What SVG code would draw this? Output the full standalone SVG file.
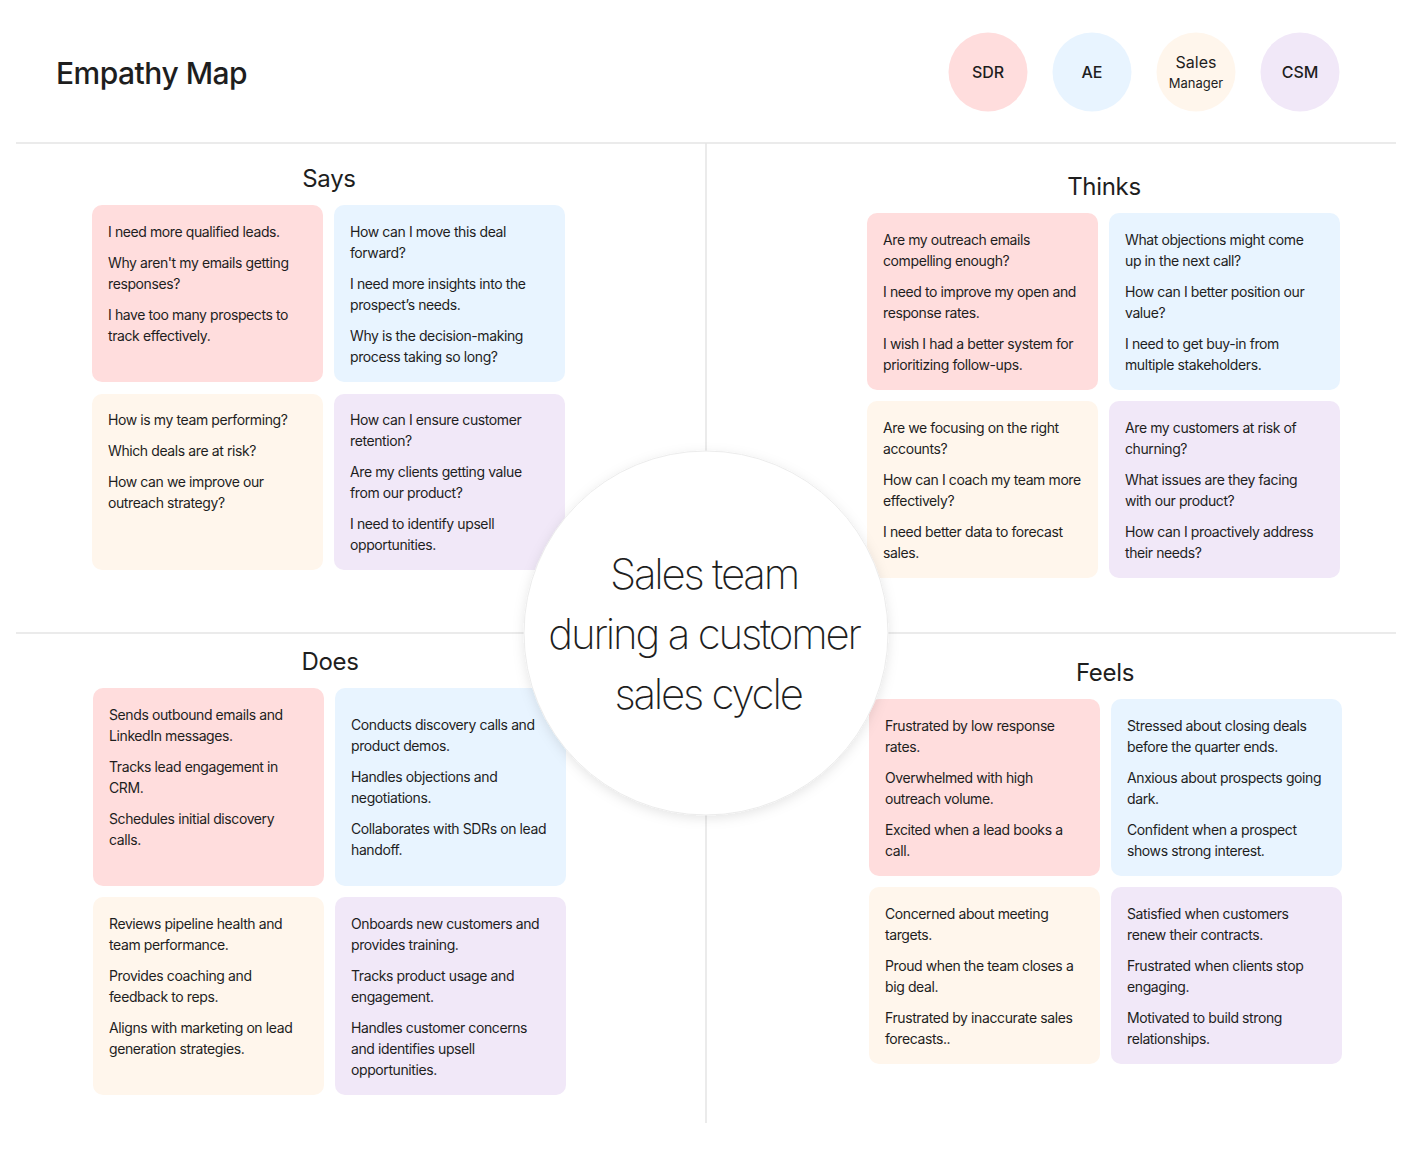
<svg xmlns="http://www.w3.org/2000/svg" width="1412" height="1165" viewBox="0 0 1412 1165">
<defs>
<filter id="sh" x="-20%" y="-20%" width="140%" height="140%">
<feDropShadow dx="0" dy="3" stdDeviation="6" flood-color="#000" flood-opacity="0.10"/>
</filter>
<style>
text{font-family:Inter,"Noto Sans",sans-serif;fill:#1e1e1e}
.t{font-size:14px;letter-spacing:-0.4px}
.h{font-size:24px;text-anchor:middle;letter-spacing:-0.3px}
.pk{fill:#FFDDDD}.bl{fill:#E8F4FF}.cr{fill:#FFF6EC}.lv{fill:#F1E8F8}
.ln{stroke:#e4e4e4;stroke-width:1.5}
.lab{font-size:16px;font-weight:500;text-anchor:middle}
</style>
</defs>
<rect width="1412" height="1165" fill="#fff"/>
<text x="56" y="84" font-size="30" font-weight="500" style="letter-spacing:-0.5px">Empathy Map</text>
<g id="personas">
<g id="p-sdr"><circle cx="988" cy="72" r="39.5" class="pk"/><text x="988" y="78" class="lab">SDR</text></g>
<g id="p-ae"><circle cx="1092" cy="72" r="39.5" class="bl"/><text x="1092" y="78" class="lab">AE</text></g>
<g id="p-sm"><circle cx="1196" cy="72" r="39.5" class="cr"/><text x="1196" y="68" class="lab" style="font-weight:400">Sales</text><text x="1196" y="88" font-size="13" text-anchor="middle" fill="#333">Manager</text></g>
<g id="p-csm"><circle cx="1300" cy="72" r="39.5" class="lv"/><text x="1300" y="78" class="lab">CSM</text></g>
</g>
<g id="connectors">
<line x1="16" y1="143" x2="1396" y2="143" class="ln"/>
<line x1="16" y1="633" x2="1396" y2="633" class="ln"/>
<line x1="706" y1="143" x2="706" y2="1123" class="ln"/>
</g>
<g id="says">
<text x="329" y="187" class="h">Says</text>
<g id="says-sdr"><rect x="92" y="205" width="231" height="177" rx="10" class="pk"/>
<text class="t"><tspan x="108" y="237">I need more qualified leads.</tspan><tspan x="108" y="268">Why aren't my emails getting</tspan><tspan x="108" y="289">responses?</tspan><tspan x="108" y="320">I have too many prospects to</tspan><tspan x="108" y="341">track effectively.</tspan></text></g>
<g id="says-ae"><rect x="334" y="205" width="231" height="177" rx="10" class="bl"/>
<text class="t"><tspan x="350" y="237">How can I move this deal</tspan><tspan x="350" y="258">forward?</tspan><tspan x="350" y="289">I need more insights into the</tspan><tspan x="350" y="310">prospect’s needs.</tspan><tspan x="350" y="341">Why is the decision-making</tspan><tspan x="350" y="362">process taking so long?</tspan></text></g>
<g id="says-sm"><rect x="92" y="394" width="231" height="176" rx="10" class="cr"/>
<text class="t"><tspan x="108" y="425">How is my team performing?</tspan><tspan x="108" y="456">Which deals are at risk?</tspan><tspan x="108" y="487">How can we improve our</tspan><tspan x="108" y="508">outreach strategy?</tspan></text></g>
<g id="says-csm"><rect x="334" y="394" width="231" height="176" rx="10" class="lv"/>
<text class="t"><tspan x="350" y="425">How can I ensure customer</tspan><tspan x="350" y="446">retention?</tspan><tspan x="350" y="477">Are my clients getting value</tspan><tspan x="350" y="498">from our product?</tspan><tspan x="350" y="529">I need to identify upsell</tspan><tspan x="350" y="550">opportunities.</tspan></text></g>
</g>
<g id="thinks">
<text x="1104" y="195" class="h">Thinks</text>
<g id="thinks-sdr"><rect x="867" y="213" width="231" height="177" rx="10" class="pk"/>
<text class="t"><tspan x="883" y="245">Are my outreach emails</tspan><tspan x="883" y="266">compelling enough?</tspan><tspan x="883" y="297">I need to improve my open and</tspan><tspan x="883" y="318">response rates.</tspan><tspan x="883" y="349">I wish I had a better system for</tspan><tspan x="883" y="370">prioritizing follow-ups.</tspan></text></g>
<g id="thinks-ae"><rect x="1109" y="213" width="231" height="177" rx="10" class="bl"/>
<text class="t"><tspan x="1125" y="245">What objections might come</tspan><tspan x="1125" y="266">up in the next call?</tspan><tspan x="1125" y="297">How can I better position our</tspan><tspan x="1125" y="318">value?</tspan><tspan x="1125" y="349">I need to get buy-in from</tspan><tspan x="1125" y="370">multiple stakeholders.</tspan></text></g>
<g id="thinks-sm"><rect x="867" y="401" width="231" height="177" rx="10" class="cr"/>
<text class="t"><tspan x="883" y="433">Are we focusing on the right</tspan><tspan x="883" y="454">accounts?</tspan><tspan x="883" y="485">How can I coach my team more</tspan><tspan x="883" y="506">effectively?</tspan><tspan x="883" y="537">I need better data to forecast</tspan><tspan x="883" y="558">sales.</tspan></text></g>
<g id="thinks-csm"><rect x="1109" y="401" width="231" height="177" rx="10" class="lv"/>
<text class="t"><tspan x="1125" y="433">Are my customers at risk of</tspan><tspan x="1125" y="454">churning?</tspan><tspan x="1125" y="485">What issues are they facing</tspan><tspan x="1125" y="506">with our product?</tspan><tspan x="1125" y="537">How can I proactively address</tspan><tspan x="1125" y="558">their needs?</tspan></text></g>
</g>
<g id="does">
<text x="330" y="670" class="h">Does</text>
<g id="does-sdr"><rect x="93" y="688" width="231" height="198" rx="10" class="pk"/>
<text class="t"><tspan x="109" y="720">Sends outbound emails and</tspan><tspan x="109" y="741">LinkedIn messages.</tspan><tspan x="109" y="772">Tracks lead engagement in</tspan><tspan x="109" y="793">CRM.</tspan><tspan x="109" y="824">Schedules initial discovery</tspan><tspan x="109" y="845">calls.</tspan></text></g>
<g id="does-ae"><rect x="335" y="688" width="231" height="198" rx="10" class="bl"/>
<text class="t"><tspan x="351" y="730">Conducts discovery calls and</tspan><tspan x="351" y="751">product demos.</tspan><tspan x="351" y="782">Handles objections and</tspan><tspan x="351" y="803">negotiations.</tspan><tspan x="351" y="834">Collaborates with SDRs on lead</tspan><tspan x="351" y="855">handoff.</tspan></text></g>
<g id="does-sm"><rect x="93" y="897" width="231" height="198" rx="10" class="cr"/>
<text class="t"><tspan x="109" y="929">Reviews pipeline health and</tspan><tspan x="109" y="950">team performance.</tspan><tspan x="109" y="981">Provides coaching and</tspan><tspan x="109" y="1002">feedback to reps.</tspan><tspan x="109" y="1033">Aligns with marketing on lead</tspan><tspan x="109" y="1054">generation strategies.</tspan></text></g>
<g id="does-csm"><rect x="335" y="897" width="231" height="198" rx="10" class="lv"/>
<text class="t"><tspan x="351" y="929">Onboards new customers and</tspan><tspan x="351" y="950">provides training.</tspan><tspan x="351" y="981">Tracks product usage and</tspan><tspan x="351" y="1002">engagement.</tspan><tspan x="351" y="1033">Handles customer concerns</tspan><tspan x="351" y="1054">and identifies upsell</tspan><tspan x="351" y="1075">opportunities.</tspan></text></g>
</g>
<g id="feels">
<text x="1105" y="681" class="h">Feels</text>
<g id="feels-sdr"><rect x="869" y="699" width="231" height="177" rx="10" class="pk"/>
<text class="t"><tspan x="885" y="731">Frustrated by low response</tspan><tspan x="885" y="752">rates.</tspan><tspan x="885" y="783">Overwhelmed with high</tspan><tspan x="885" y="804">outreach volume.</tspan><tspan x="885" y="835">Excited when a lead books a</tspan><tspan x="885" y="856">call.</tspan></text></g>
<g id="feels-ae"><rect x="1111" y="699" width="231" height="177" rx="10" class="bl"/>
<text class="t"><tspan x="1127" y="731">Stressed about closing deals</tspan><tspan x="1127" y="752">before the quarter ends.</tspan><tspan x="1127" y="783">Anxious about prospects going</tspan><tspan x="1127" y="804">dark.</tspan><tspan x="1127" y="835">Confident when a prospect</tspan><tspan x="1127" y="856">shows strong interest.</tspan></text></g>
<g id="feels-sm"><rect x="869" y="887" width="231" height="177" rx="10" class="cr"/>
<text class="t"><tspan x="885" y="919">Concerned about meeting</tspan><tspan x="885" y="940">targets.</tspan><tspan x="885" y="971">Proud when the team closes a</tspan><tspan x="885" y="992">big deal.</tspan><tspan x="885" y="1023">Frustrated by inaccurate sales</tspan><tspan x="885" y="1044">forecasts..</tspan></text></g>
<g id="feels-csm"><rect x="1111" y="887" width="231" height="177" rx="10" class="lv"/>
<text class="t"><tspan x="1127" y="919">Satisfied when customers</tspan><tspan x="1127" y="940">renew their contracts.</tspan><tspan x="1127" y="971">Frustrated when clients stop</tspan><tspan x="1127" y="992">engaging.</tspan><tspan x="1127" y="1023">Motivated to build strong</tspan><tspan x="1127" y="1044">relationships.</tspan></text></g>
</g>
<g id="center">
<circle cx="706" cy="633" r="182" fill="#fff" stroke="#ececec" stroke-width="1" filter="url(#sh)"/>
<text text-anchor="middle" font-size="42" font-weight="200" style="letter-spacing:-2.2px" fill="#222"><tspan x="704" y="589">Sales team</tspan><tspan x="704" y="649">during a customer</tspan><tspan x="708" y="709">sales cycle</tspan></text>
</g>
</svg>
